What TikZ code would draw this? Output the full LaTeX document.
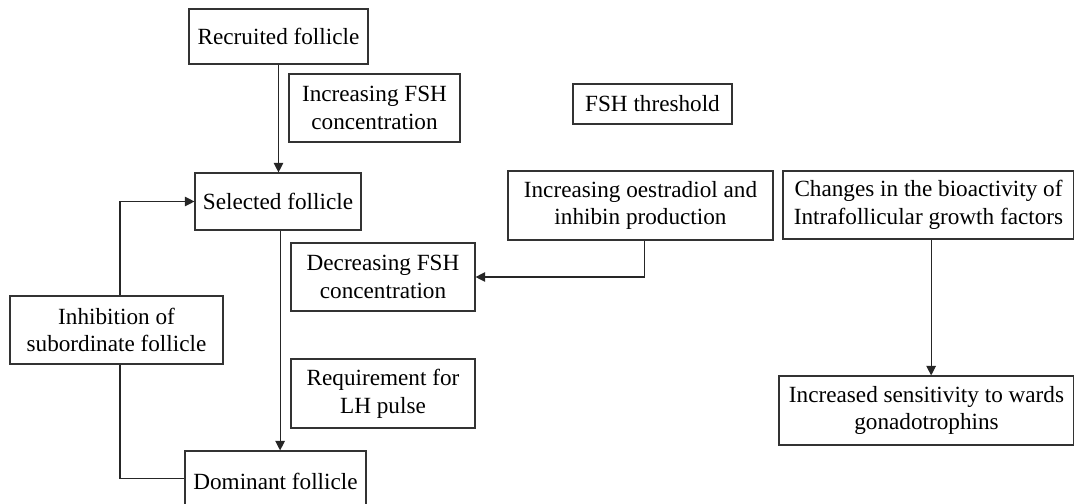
\documentclass[tikz,border=0pt]{standalone}
\usepackage{fontspec}
\setmainfont{Liberation Serif}
\usepackage{tikz}
\usetikzlibrary{positioning,calc,arrows.meta}

\begin{document}
\begin{tikzpicture}[
  fbox/.style={draw=black!80,line width=0.65pt,align=center,inner sep=2pt,font=\fontsize{13.2}{15.8}\selectfont},
  conn/.style={draw=black!85,line width=0.65pt},
  arr/.style={conn,-{Triangle[width=5.5pt,length=5.5pt]}}]
\useasboundingbox (0,0) rectangle (21.48,10.06);
% follicle stages
\node (rec) at (5.57,9.33) [fbox,minimum width=3.58cm,minimum height=1.10cm] {Recruited follicle};
\node (sel) at (5.56,6.03) [fbox,minimum width=3.32cm,minimum height=1.14cm] {Selected follicle};
\node (dom) at (5.51,0.44) [fbox,minimum width=3.62cm,minimum height=1.20cm] {Dominant follicle};
\node (inh) at (2.33,3.46) [fbox,minimum width=4.26cm,minimum height=1.36cm] {Inhibition of\\subordinate follicle};
% hormonal conditions
\node (incfsh) at (7.49,7.90) [fbox,minimum width=3.42cm,minimum height=1.36cm] {Increasing FSH\\concentration};
\node (thr) at (13.05,7.98) [fbox,minimum width=3.18cm,minimum height=0.80cm] {FSH threshold};
\node (decfsh) at (7.66,4.52) [fbox,minimum width=3.68cm,minimum height=1.36cm] {Decreasing FSH\\concentration};
\node (req) at (7.66,2.19) [fbox,minimum width=3.68cm,minimum height=1.38cm] {Requirement for\\LH pulse};
\node (oes) at (12.81,5.95) [fbox,minimum width=5.30cm,minimum height=1.38cm] {Increasing oestradiol and\\inhibin production};
\node (chg) at (18.57,5.96) [fbox,minimum width=5.82cm,minimum height=1.36cm] {Changes in the bioactivity of\\Intrafollicular growth factors};
\node (sens) at (18.53,1.85) [fbox,minimum width=5.90cm,minimum height=1.38cm] {Increased sensitivity to wards\\gonadotrophins};
% connectors
\draw[arr] (rec.south) -- (rec.south |- sel.north);
\draw[arr] ([xshift=1.2pt]sel.south) -- ([xshift=1.2pt]sel.south |- dom.north);
\draw[arr] ([xshift=2.5pt]oes.south) |- (decfsh.east);
\draw[arr] ([xshift=1.5pt]chg.south) -- ([xshift=1.5pt]chg.south |- sens.north);
\draw[arr] ([xshift=2pt]inh.north) |- (sel.west);
\draw[conn] ([xshift=2pt]inh.south) |- ([yshift=1.5pt]dom.west);
\end{tikzpicture}
\end{document}
